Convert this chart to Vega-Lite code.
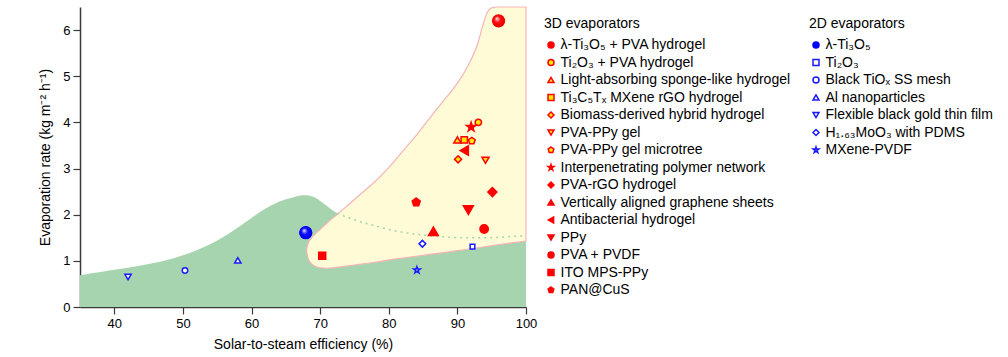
{
  "$schema": "https://vega.github.io/schema/vega-lite/v6.json",
  "width": 446,
  "height": 300,
  "autosize": "none",
  "padding": {"left": 80, "top": 7, "right": 482, "bottom": 50},
  "config": {
    "font": "Liberation Sans",
    "view": {"stroke": null},
    "axis": {"grid": false, "labelFontSize": 13, "titleFontSize": 14, "titleFontWeight": "normal", "labelColor": "#000", "titleColor": "#000", "domainColor": "#3a3a3a", "tickColor": "#3a3a3a", "domainWidth": 1.5, "tickWidth": 1.2, "tickSize": 7, "labelPadding": 3, "labelFlush": false},
    "legend": {"titleFontSize": 14, "titleFontWeight": "normal", "titleColor": "#000", "labelFontSize": 14, "labelColor": "#000", "labelLimit": 0, "symbolStrokeWidth": 1.5, "rowPadding": 3.5, "labelOffset": 2.5, "titlePadding": 7, "padding": 0, "symbolSize": 36}
  },
  "datasets": {
    "green": [
      {"x": 35, "y": 0.69}, {"x": 38, "y": 0.76}, {"x": 42, "y": 0.85}, {"x": 45, "y": 0.93}, {"x": 48, "y": 1.03}, {"x": 50, "y": 1.12}, {"x": 52, "y": 1.23}, {"x": 55, "y": 1.44}, {"x": 57, "y": 1.62}, {"x": 60, "y": 1.93}, {"x": 62, "y": 2.13}, {"x": 64, "y": 2.28}, {"x": 66, "y": 2.37}, {"x": 67.5, "y": 2.42}, {"x": 68.5, "y": 2.41}, {"x": 69.5, "y": 2.35}, {"x": 70.5, "y": 2.24}, {"x": 71.5, "y": 2.13}, {"x": 72.5, "y": 2.03}, {"x": 74, "y": 1.94}, {"x": 76, "y": 1.84}, {"x": 78, "y": 1.76}, {"x": 80, "y": 1.68}, {"x": 82, "y": 1.62}, {"x": 85, "y": 1.56}, {"x": 88, "y": 1.52}, {"x": 91, "y": 1.5}, {"x": 94, "y": 1.5}, {"x": 97, "y": 1.52}, {"x": 100, "y": 1.55}
    ],
    "region": [
      {"x": 68.0, "y": 1.23, "y2": 1.23}, {"x": 68.2, "y": 1.36, "y2": 1.07}, {"x": 68.6, "y": 1.47, "y2": 0.96}, {"x": 69.2, "y": 1.57, "y2": 0.89}, {"x": 70, "y": 1.68, "y2": 0.85}, {"x": 71, "y": 1.82, "y2": 0.84}, {"x": 72.5, "y": 2.01, "y2": 0.86}, {"x": 74, "y": 2.2, "y2": 0.89}, {"x": 76, "y": 2.46, "y2": 0.93}, {"x": 78, "y": 2.72, "y2": 0.97}, {"x": 80, "y": 3.02, "y2": 1.02}, {"x": 82, "y": 3.37, "y2": 1.06}, {"x": 84, "y": 3.72, "y2": 1.1}, {"x": 86, "y": 4.1, "y2": 1.14}, {"x": 88, "y": 4.47, "y2": 1.18}, {"x": 90, "y": 4.85, "y2": 1.22}, {"x": 91, "y": 5.08, "y2": 1.24}, {"x": 92, "y": 5.36, "y2": 1.26}, {"x": 93, "y": 5.72, "y2": 1.28}, {"x": 93.7, "y": 6.1, "y2": 1.3}, {"x": 94.3, "y": 6.36, "y2": 1.31}, {"x": 95, "y": 6.48, "y2": 1.33}, {"x": 96, "y": 6.5, "y2": 1.35}, {"x": 100, "y": 6.5, "y2": 1.43}
    ],
    "points": [
      {"group": "3D", "name": "λ-Ti₃O₅ + PVA hydrogel", "x": 96.0, "y": 6.2},
      {"group": "3D", "name": "Ti₂O₃ + PVA hydrogel", "x": 93.05, "y": 4.0},
      {"group": "3D", "name": "Light-absorbing sponge-like hydrogel", "x": 90.0, "y": 3.62},
      {"group": "3D", "name": "Ti₃C₅Tₓ MXene rGO hydrogel", "x": 91.0, "y": 3.62},
      {"group": "3D", "name": "Biomass-derived hybrid hydrogel", "x": 90.1, "y": 3.2},
      {"group": "3D", "name": "PVA-PPy gel", "x": 94.1, "y": 3.18},
      {"group": "3D", "name": "PVA-PPy gel microtree", "x": 92.1, "y": 3.6},
      {"group": "3D", "name": "Interpenetrating polymer network", "x": 92.0, "y": 3.9},
      {"group": "3D", "name": "PVA-rGO hydrogel", "x": 95.1, "y": 2.49},
      {"group": "3D", "name": "Vertically aligned graphene sheets", "x": 86.5, "y": 1.64},
      {"group": "3D", "name": "Antibacterial hydrogel", "x": 91.0, "y": 3.39},
      {"group": "3D", "name": "PPy", "x": 91.6, "y": 2.1},
      {"group": "3D", "name": "PVA + PVDF", "x": 93.9, "y": 1.69},
      {"group": "3D", "name": "ITO MPS-PPy", "x": 70.3, "y": 1.11},
      {"group": "3D", "name": "PAN@CuS", "x": 84.0, "y": 2.27},
      {"group": "2D", "name": "λ-Ti₃O₅", "x": 67.9, "y": 1.61},
      {"group": "2D", "name": "Ti₂O₃", "x": 92.2, "y": 1.31},
      {"group": "2D", "name": "Black TiOₓ SS mesh", "x": 50.3, "y": 0.79},
      {"group": "2D", "name": "Al nanoparticles", "x": 58.0, "y": 1.01},
      {"group": "2D", "name": "Flexible black gold thin film", "x": 42.0, "y": 0.65},
      {"group": "2D", "name": "H₁.₆₃MoO₃ with PDMS", "x": 84.9, "y": 1.37},
      {"group": "2D", "name": "MXene-PVDF", "x": 84.1, "y": 0.8}
    ]
  },
  "encoding": {
    "x": {"field": "x", "type": "quantitative", "scale": {"domain": [35, 100], "nice": false, "zero": false}, "axis": {"title": "Solar-to-steam efficiency (%)", "values": [40, 50, 60, 70, 80, 90, 100], "titlePadding": 7}},
    "y": {"field": "y", "type": "quantitative", "scale": {"domain": [0, 6.5], "nice": false, "zero": false}, "axis": {"title": "Evaporation rate (kg m⁻² h⁻¹)", "values": [0, 1, 2, 3, 4, 5, 6], "titlePadding": 10}}
  },
  "layer": [
    {"data": {"name": "green"}, "mark": {"type": "area", "interpolate": "monotone", "color": "#a6d4ae", "opacity": 1}},
    {"data": {"name": "region"}, "mark": {"type": "area", "interpolate": "monotone", "fill": "#fffbd6", "stroke": "#f5b5b8", "strokeWidth": 1.2, "opacity": 1}, "encoding": {"y2": {"field": "y2"}}},
    {"data": {"name": "green"}, "transform": [{"filter": "datum.x >= 72.5"}], "mark": {"type": "line", "interpolate": "monotone", "color": "#a6d4ae", "strokeWidth": 1.5, "strokeDash": [2, 4]}},
    {
      "data": {"name": "points"},
      "transform": [{"filter": "datum.group === '3D'"}],
      "mark": {"type": "point", "filled": true, "opacity": 1, "strokeWidth": 1.5},
      "encoding": {
        "shape": {"field": "name", "type": "nominal", "scale": {"domain": ["λ-Ti₃O₅ + PVA hydrogel", "Ti₂O₃ + PVA hydrogel", "Light-absorbing sponge-like hydrogel", "Ti₃C₅Tₓ MXene rGO hydrogel", "Biomass-derived hybrid hydrogel", "PVA-PPy gel", "PVA-PPy gel microtree", "Interpenetrating polymer network", "PVA-rGO hydrogel", "Vertically aligned graphene sheets", "Antibacterial hydrogel", "PPy", "PVA + PVDF", "ITO MPS-PPy", "PAN@CuS"], "range": ["circle", "circle", "triangle-up", "square", "diamond", "triangle-down", "M0,-1L0.951,-0.309L0.588,0.809L-0.588,0.809L-0.951,-0.309Z", "M0,-1L0.225,-0.31L0.951,-0.309L0.364,0.118L0.588,0.809L0,0.383L-0.588,0.809L-0.364,0.118L-0.951,-0.309L-0.225,-0.31Z", "diamond", "triangle-up", "triangle-left", "triangle-down", "circle", "square", "M0,-1L0.951,-0.309L0.588,0.809L-0.588,0.809L-0.951,-0.309Z"]},
          "legend": {"title": "3D evaporators", "orient": "none", "legendX": 464, "legendY": 10}},
        "fill": {"field": "name", "type": "nominal", "scale": {"domain": ["λ-Ti₃O₅ + PVA hydrogel", "Ti₂O₃ + PVA hydrogel", "Light-absorbing sponge-like hydrogel", "Ti₃C₅Tₓ MXene rGO hydrogel", "Biomass-derived hybrid hydrogel", "PVA-PPy gel", "PVA-PPy gel microtree", "Interpenetrating polymer network", "PVA-rGO hydrogel", "Vertically aligned graphene sheets", "Antibacterial hydrogel", "PPy", "PVA + PVDF", "ITO MPS-PPy", "PAN@CuS"], "range": ["#ff0000", "#ffe800", "#ffe800", "#ffe800", "#ffe800", "#ffe800", "#ffe800", "#ff0000", "#ff0000", "#ff0000", "#ff0000", "#ff0000", "#ff0000", "#ff0000", "#ff0000"]},
          "legend": {"title": "3D evaporators", "orient": "none", "legendX": 464, "legendY": 10}},
        "stroke": {"field": "name", "type": "nominal", "scale": {"domain": ["λ-Ti₃O₅ + PVA hydrogel", "Ti₂O₃ + PVA hydrogel", "Light-absorbing sponge-like hydrogel", "Ti₃C₅Tₓ MXene rGO hydrogel", "Biomass-derived hybrid hydrogel", "PVA-PPy gel", "PVA-PPy gel microtree", "Interpenetrating polymer network", "PVA-rGO hydrogel", "Vertically aligned graphene sheets", "Antibacterial hydrogel", "PPy", "PVA + PVDF", "ITO MPS-PPy", "PAN@CuS"], "range": ["#ff0000", "#ff0000", "#ff0000", "#ff0000", "#ff0000", "#ff0000", "#ff0000", "#ff0000", "#ff0000", "#ff0000", "#ff0000", "#ff0000", "#ff0000", "#ff0000", "#ff0000"]},
          "legend": {"title": "3D evaporators", "orient": "none", "legendX": 464, "legendY": 10}},
        "size": {"field": "name", "type": "nominal", "legend": null, "scale": {"type": "ordinal", "domain": ["λ-Ti₃O₅ + PVA hydrogel", "Ti₂O₃ + PVA hydrogel", "Light-absorbing sponge-like hydrogel", "Ti₃C₅Tₓ MXene rGO hydrogel", "Biomass-derived hybrid hydrogel", "PVA-PPy gel", "PVA-PPy gel microtree", "Interpenetrating polymer network", "PVA-rGO hydrogel", "Vertically aligned graphene sheets", "Antibacterial hydrogel", "PPy", "PVA + PVDF", "ITO MPS-PPy", "PAN@CuS", "-"], "range": [140, 40, 50, 40, 50, 50, 50, 90, 81, 94, 90, 100, 70, 49, 71, 10]}}
      }
    },
    {
      "data": {"name": "points"},
      "transform": [{"filter": "datum.group === '2D'"}],
      "mark": {"type": "point", "filled": true, "opacity": 1, "strokeWidth": 1.5},
      "encoding": {
        "shape": {"field": "name", "type": "nominal", "scale": {"domain": ["λ-Ti₃O₅", "Ti₂O₃", "Black TiOₓ SS mesh", "Al nanoparticles", "Flexible black gold thin film", "H₁.₆₃MoO₃ with PDMS", "MXene-PVDF"], "range": ["circle", "square", "circle", "triangle-up", "triangle-down", "diamond", "M0,-1L0.225,-0.31L0.951,-0.309L0.364,0.118L0.588,0.809L0,0.383L-0.588,0.809L-0.364,0.118L-0.951,-0.309L-0.225,-0.31Z"]},
          "legend": {"title": "2D evaporators", "orient": "none", "legendX": 729, "legendY": 10}},
        "fill": {"field": "name", "type": "nominal", "scale": {"domain": ["λ-Ti₃O₅", "Ti₂O₃", "Black TiOₓ SS mesh", "Al nanoparticles", "Flexible black gold thin film", "H₁.₆₃MoO₃ with PDMS", "MXene-PVDF"], "range": ["#0000ff", "#ffffff", "#ffffff", "#ffffff", "#ffffff", "#ffffff", "#ffffff"]},
          "legend": {"title": "2D evaporators", "orient": "none", "legendX": 729, "legendY": 10}},
        "stroke": {"field": "name", "type": "nominal", "scale": {"domain": ["λ-Ti₃O₅", "Ti₂O₃", "Black TiOₓ SS mesh", "Al nanoparticles", "Flexible black gold thin film", "H₁.₆₃MoO₃ with PDMS", "MXene-PVDF"], "range": ["#0000ff", "#1a1aff", "#1a1aff", "#1a1aff", "#1a1aff", "#1a1aff", "#1a1aff"]},
          "legend": {"title": "2D evaporators", "orient": "none", "legendX": 729, "legendY": 10}},
        "size": {"field": "name", "type": "nominal", "legend": null, "scale": {"type": "ordinal", "domain": ["λ-Ti₃O₅", "Ti₂O₃", "Black TiOₓ SS mesh", "Al nanoparticles", "Flexible black gold thin film", "H₁.₆₃MoO₃ with PDMS", "MXene-PVDF", "-"], "range": [140, 22, 30, 40, 40, 45, 47, 10]}}
      }
    },
    {
      "data": {"name": "points"},
      "transform": [{"filter": "datum.name === 'λ-Ti₃O₅ + PVA hydrogel'"}],
      "mark": {"type": "point", "shape": "circle", "filled": true, "opacity": 1, "strokeWidth": 0, "size": 150, "fill": {"gradient": "radial", "x1": 0.35, "y1": 0.3, "r1": 0, "x2": 0.5, "y2": 0.5, "r2": 0.55, "stops": [{"offset": 0, "color": "#ffffff"}, {"offset": 0.18, "color": "#ff9a9a"}, {"offset": 0.45, "color": "#ff1010"}, {"offset": 0.85, "color": "#ee0000"}, {"offset": 1, "color": "#b80000"}]}}
    },
    {
      "data": {"name": "points"},
      "transform": [{"filter": "datum.name === 'λ-Ti₃O₅'"}],
      "mark": {"type": "point", "shape": "circle", "filled": true, "opacity": 1, "strokeWidth": 0, "size": 150, "fill": {"gradient": "radial", "x1": 0.35, "y1": 0.3, "r1": 0, "x2": 0.5, "y2": 0.5, "r2": 0.55, "stops": [{"offset": 0, "color": "#ffffff"}, {"offset": 0.18, "color": "#9a9aff"}, {"offset": 0.45, "color": "#1010ff"}, {"offset": 0.85, "color": "#0000ee"}, {"offset": 1, "color": "#0000b0"}]}}
    }
  ],
  "resolve": {
    "scale": {"shape": "independent", "fill": "independent", "stroke": "independent", "size": "independent"},
    "legend": {"shape": "independent", "fill": "independent", "stroke": "independent", "size": "independent"}
  }
}
